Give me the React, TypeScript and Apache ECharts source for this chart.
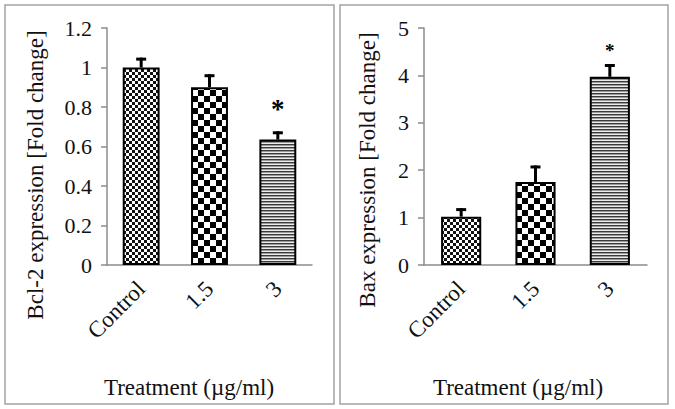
import React, { useEffect, useRef } from "react";
import * as echarts from "echarts";

const categories = ["Control", "1.5", "3"];
const bcl2Means = [1.0, 0.9, 0.635];
const bcl2Errors = [0.05, 0.066, 0.042];
const baxMeans = [1.02, 1.75, 3.97];
const baxErrors = [0.18, 0.35, 0.27];
const significant = [false, false, true];
const bcl2Ticks = { min: 0, max: 1.2, interval: 0.2 };
const baxTicks = { min: 0, max: 5, interval: 1 };
const yTitles = ["Bcl-2 expression [Fold change]", "Bax expression [Fold change]"];
const xTitle = "Treatment (\u00b5g/ml)";

const FONT = "'Liberation Serif', 'Times New Roman', serif";

function makePattern(kind: string): HTMLCanvasElement {
  const c = document.createElement("canvas");
  const ctx = c.getContext("2d")!;
  if (kind === "fine") {
    c.width = 6; c.height = 6;
    ctx.fillStyle = "#ffffff"; ctx.fillRect(0, 0, 6, 6);
    ctx.fillStyle = "#111111";
    ctx.fillRect(0, 0, 3, 3); ctx.fillRect(3, 3, 3, 3);
  } else if (kind === "coarse") {
    c.width = 12; c.height = 12;
    ctx.fillStyle = "#ffffff"; ctx.fillRect(0, 0, 12, 12);
    ctx.fillStyle = "#000000";
    ctx.fillRect(0, 0, 6, 6); ctx.fillRect(6, 6, 6, 6);
  } else {
    c.width = 6; c.height = 3;
    ctx.fillStyle = "#ececec"; ctx.fillRect(0, 0, 6, 3);
    ctx.fillStyle = "#3a3a3a"; ctx.fillRect(0, 0, 6, 1);
    ctx.fillStyle = "#9a9a9a"; ctx.fillRect(0, 1, 6, 1);
  }
  return c;
}

export default function App() {
  const ref = useRef<HTMLDivElement>(null);
  useEffect(() => {
    if (!ref.current) return;
    const chart = echarts.init(ref.current, null, { renderer: "svg" });
    const patterns = [makePattern("fine"), makePattern("coarse"), makePattern("stripe")];

    const barData = (vals: number[]) =>
      vals.map((v, i) => ({
        value: v,
        itemStyle: {
          color: { image: patterns[i], repeat: "repeat" } as any,
          borderColor: "#000",
          borderWidth: 2,
        },
      }));

    const errRender = (starGap: number, starSize: number) => (params: any, api: any) => {
      const i = api.value(0);
      const v = api.value(1);
      const e = api.value(2);
      const base = api.coord([i, v]);
      const top = api.coord([i, v + e]);
      const children: any[] = [
        { type: "line", shape: { x1: base[0], y1: base[1], x2: top[0], y2: top[1] }, style: { stroke: "#000", lineWidth: 3 } },
        { type: "rect", shape: { x: top[0] - 5, y: top[1], width: 10, height: 3 }, style: { fill: "#000" } },
      ];
      if (significant[i]) {
        children.push({
          type: "text",
          x: top[0],
          y: top[1] - starGap,
          style: { text: "*", fontSize: starSize, fontWeight: "bold", fontFamily: FONT, fill: "#000", align: "center", verticalAlign: "middle" },
        });
      }
      return { type: "group", children };
    };

    const grids = [
      { left: 107, top: 28, width: 205, height: 237 },
      { left: 424, top: 28, width: 223, height: 237 },
    ];
    const tickSets = [bcl2Ticks, baxTicks];
    const yTitlePos = [[35, 175], [367, 170]];
    const xTitlePos = [[189, 387], [518, 387]];

    const option: any = {
      animation: false,
      grid: grids,
      xAxis: grids.map((_, g) => ({
        type: "category",
        gridIndex: g,
        data: categories,
        axisLine: { lineStyle: { color: "#8c8c8c", width: 1.5 } },
        axisTick: { show: false },
        axisLabel: { rotate: 45, margin: 20, fontSize: 23, fontFamily: FONT, color: "#111", interval: 0 },
      })),
      yAxis: grids.map((_, g) => ({
        type: "value",
        gridIndex: g,
        min: tickSets[g].min,
        max: tickSets[g].max,
        interval: tickSets[g].interval,
        axisLine: { show: true, lineStyle: { color: "#8c8c8c", width: 1.5 } },
        axisTick: { show: true, length: 6, lineStyle: { color: "#8c8c8c", width: 1.5 } },
        splitLine: { show: false },
        axisLabel: {
          fontSize: 22,
          fontFamily: FONT,
          color: "#111",
          margin: 15,
          formatter: (v: number) => String(Math.round(v * 10) / 10),
        },
      })),
      series: [
        { type: "bar", xAxisIndex: 0, yAxisIndex: 0, barWidth: "54%", data: barData(bcl2Means) },
        { type: "bar", xAxisIndex: 1, yAxisIndex: 1, barWidth: "54%", data: barData(baxMeans) },
        {
          type: "custom", xAxisIndex: 0, yAxisIndex: 0, z: 3,
          renderItem: errRender(22, 27),
          data: bcl2Means.map((v, i) => [i, v, bcl2Errors[i]]),
        },
        {
          type: "custom", xAxisIndex: 1, yAxisIndex: 1, z: 3,
          renderItem: errRender(14, 19),
          data: baxMeans.map((v, i) => [i, v, baxErrors[i]]),
        },
      ],
      graphic: [
        { type: "rect", shape: { x: 5, y: 5, width: 329, height: 399 }, style: { fill: "none", stroke: "#a3a3a3", lineWidth: 1.5 }, silent: true },
        { type: "rect", shape: { x: 340, y: 5, width: 328, height: 399 }, style: { fill: "none", stroke: "#a3a3a3", lineWidth: 1.5 }, silent: true },
        ...yTitles.map((t, g) => ({
          type: "text", x: yTitlePos[g][0], y: yTitlePos[g][1], rotation: Math.PI / 2,
          style: { text: t, fontSize: 23, fontFamily: FONT, fill: "#111", align: "center", verticalAlign: "middle" },
        })),
        ...xTitlePos.map((p) => ({
          type: "text", x: p[0], y: p[1],
          style: { text: xTitle, fontSize: 23, fontFamily: FONT, fill: "#111", align: "center", verticalAlign: "middle" },
        })),
      ],
    };
    chart.setOption(option);
    return () => chart.dispose();
  }, []);
  return (
    <div
      ref={ref}
      style={{ position: "fixed", left: 0, top: 0, width: 675, height: 409, background: "#fff" }}
    />
  );
}
